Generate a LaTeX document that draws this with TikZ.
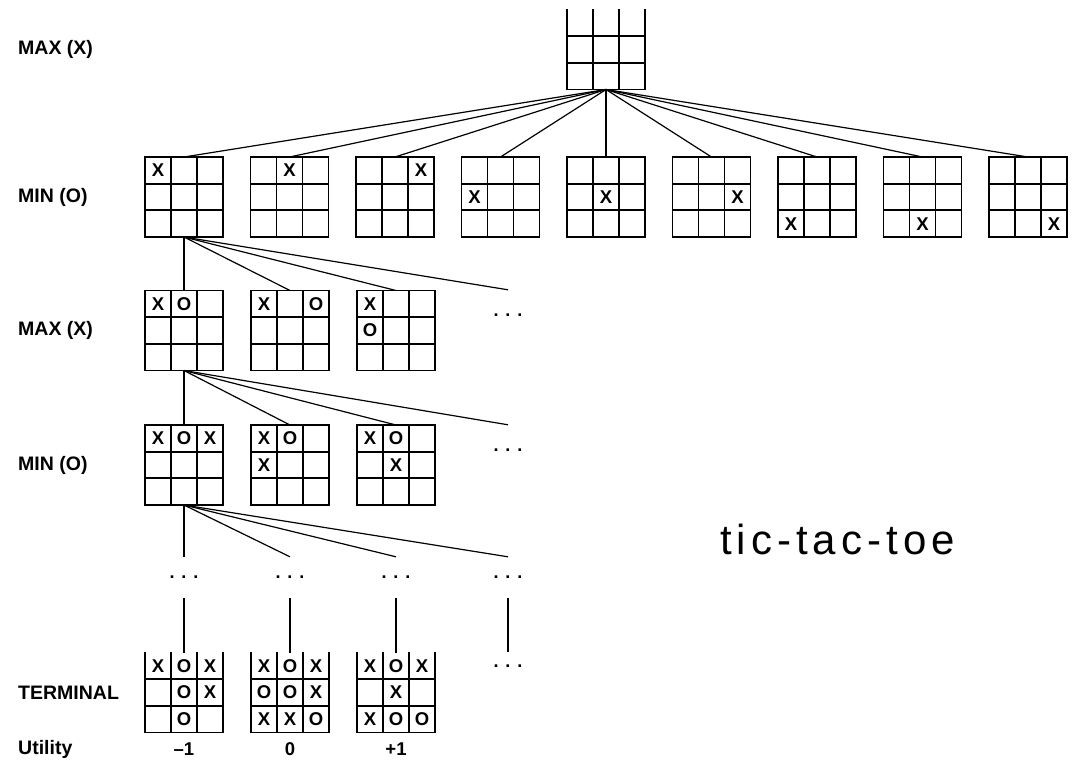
\documentclass[tikz,border=0pt]{standalone}
\usepackage{fontspec}
\setmainfont{Liberation Sans}
\newfontfamily\titlefont[LetterSpace=12]{Liberation Sans}
\usetikzlibrary{positioning}
\usetikzlibrary{calc}

\tikzset{
  board/.style={minimum width=78pt, minimum height=80pt, inner sep=0pt, outer sep=0pt},
  grid/.style={line width=1.8pt, line cap=rect},
  xo/.style={inner sep=0pt, font=\fontsize{18.5}{18}\selectfont\bfseries},
  level/.style={anchor=west, inner sep=0pt, font=\fontsize{19.5}{20}\selectfont\bfseries},
  value/.style={inner sep=0pt, font=\fontsize{18.5}{20}\selectfont\bfseries},
  move/.style={line width=1.2pt},
  more/.style={inner sep=0pt, font=\fontsize{18}{18}\selectfont\bfseries},
}

\newcommand{\more}{.\hspace{7pt}.\hspace{7pt}.}

% #1: draw for a top edge (empty for an open board), #2: name, #3: centre, #4: marks row/col/letter
\newcommand{\board}[4][draw]{%
  \node[board] (#2) at #3 {};
  \draw[grid] (#2.north west) -- (#2.south west) -- (#2.south east) -- (#2.north east);
  \path[grid,#1] (#2.north west) -- (#2.north east);
  \foreach \f in {1,2} {
    \draw[grid] ($(#2.north west)!\f/3!(#2.north east)$) -- ($(#2.south west)!\f/3!(#2.south east)$);
    \draw[grid] ($(#2.north west)!\f/3!(#2.south west)$) -- ($(#2.north east)!\f/3!(#2.south east)$);
  }
  \if\relax\detokenize{#4}\relax\else
    \foreach \rw/\cl/\mk in {#4}
      \node[xo] (#2-\rw\cl) at ($(#2.north west)+(\cl*26-13,\rw*26.67-13.33)$) {\mk};
  \fi
}

\begin{document}
\begin{tikzpicture}[x=1pt, y=-1pt]
  \useasboundingbox (0,0) rectangle (1073,764);

  % levels
  \node[level] (l0) at (18,49.5) {MAX (X)};
  \node[level] (l1) at (18,197) {MIN (O)};
  \node[level] (l2) at (18,330.5) {MAX (X)};
  \node[level] (l3) at (18,465) {MIN (O)};
  \node[level] (l4) at (18,692.5) {TERMINAL};
  \node[level] (l5) at (18,749) {Utility};

  % root and first moves
  \board[]{r}{(606,49.5)}{}
  \foreach \i in {1,...,9} {
    \pgfmathtruncatemacro{\row}{(\i-1)/3+1}
    \pgfmathtruncatemacro{\col}{mod(\i-1,3)+1}
    \board{a\i}{(184+105.5*\i-105.5,197)}{\row/\col/X}
    \draw[move] (r.south) -- (a\i.north);
  }

  % second level
  \board{b1}{(184,330.5)}{1/1/X, 1/2/O}
  \board{b2}{(290,330.5)}{1/1/X, 1/3/O}
  \board{b3}{(396,330.5)}{1/1/X, 2/1/O}
  \node[more, minimum height=50pt] (b4) at (508,315) {\more};
  \foreach \n in {b1,b2,b3,b4}
    \draw[move] (a1.south) -- (\n.north);

  % third level
  \board{c1}{(184,465)}{1/1/X, 1/2/O, 1/3/X}
  \board{c2}{(290,465)}{1/1/X, 1/2/O, 2/1/X}
  \board{c3}{(396,465)}{1/1/X, 1/2/O, 2/2/X}
  \node[more, minimum height=50pt] (c4) at (508,450) {\more};
  \foreach \n in {c1,c2,c3,c4}
    \draw[move] (b1.south) -- (\n.north);

  \foreach \n/\x in {1/184, 2/290, 3/396, 4/508} {
    \node[more, minimum height=41pt] (d\n) at (\x,577.5) {\more};
    \draw[move] (c1.south) -- (d\n.north);
  }

  % terminal states
  \board[]{t1}{(184,692.5)}{1/1/X, 1/2/O, 1/3/X, 2/2/O, 2/3/X, 3/2/O}
  \board[]{t2}{(290,692.5)}{1/1/X, 1/2/O, 1/3/X, 2/1/O, 2/2/O, 2/3/X, 3/1/X, 3/2/X, 3/3/O}
  \board[]{t3}{(396,692.5)}{1/1/X, 1/2/O, 1/3/X, 2/2/X, 3/1/X, 3/2/O, 3/3/O}
  \node[more, minimum height=28pt] (t4) at (508,666) {\more};
  \foreach \n in {1,...,4}
    \draw[move] (d\n.south) -- (t\n.north);

  \node[value] (u1) at (184,749) {--1};
  \node[value] (u2) at (290,749) {0};
  \node[value] (u3) at (396,749) {+1};

  \node[font=\titlefont\fontsize{42}{48}\selectfont, anchor=base] (title) at (837.5,554) {tic-tac-toe};
\end{tikzpicture}
\end{document}
